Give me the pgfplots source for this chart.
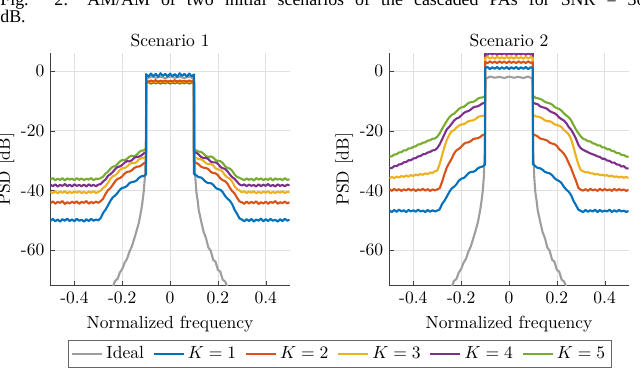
\documentclass[border=0pt]{standalone}
\usepackage{fontspec}
\usepackage{pgfplots}
\usepackage{pgfplotstable}
\pgfplotsset{compat=1.18}
\newfontfamily\capfont{Liberation Serif}

\definecolor{mblue}{rgb}{0,0.447,0.741}
\definecolor{morange}{rgb}{0.850,0.325,0.098}
\definecolor{myellow}{rgb}{0.929,0.694,0.125}
\definecolor{mpurple}{rgb}{0.494,0.184,0.556}
\definecolor{mgreen}{rgb}{0.466,0.674,0.188}
\definecolor{mgray}{rgb}{0.62,0.62,0.62}

% scenario 1, PSD in dB
\pgfplotstableread{
x      k1     k2     k3     k4     k5
-0.50 -50.2 -44.3 -40.5 -38.1 -36.4
-0.49 -49.6 -43.7 -40.9 -38.6 -35.9
-0.48 -50.4 -44.5 -40.3 -38.0 -36.6
-0.47 -49.8 -43.9 -41.0 -38.7 -36.1
-0.46 -50.5 -44.2 -40.4 -38.2 -36.5
-0.45 -49.7 -43.6 -40.8 -38.5 -35.9
-0.44 -50.2 -44.6 -40.3 -37.9 -36.7
-0.43 -49.5 -44.0 -41.0 -38.6 -36.0
-0.42 -50.3 -44.4 -40.5 -38.1 -36.4
-0.41 -49.8 -43.8 -40.9 -38.7 -36.1
-0.40 -50.4 -44.3 -40.4 -38.0 -36.6
-0.39 -49.6 -43.7 -40.8 -38.5 -35.9
-0.38 -50.2 -44.5 -40.3 -38.2 -36.5
-0.37 -49.9 -43.9 -40.9 -38.6 -36.0
-0.36 -50.5 -44.2 -40.5 -38.1 -36.6
-0.35 -49.7 -43.6 -41.0 -38.7 -36.1
-0.34 -50.3 -44.5 -40.4 -38.0 -36.4
-0.33 -49.6 -43.9 -40.8 -38.5 -35.9
-0.32 -50.2 -44.3 -40.3 -38.2 -36.6
-0.31 -49.8 -43.8 -40.9 -38.6 -36.1
-0.30 -50.1 -44.2 -40.5 -38.1 -36.2
-0.29 -49.3 -43.6 -40.1 -37.9 -35.9
-0.28 -47.6 -42.8 -39.2 -37.0 -35.4
-0.27 -46.5 -41.2 -38.6 -36.4 -34.4
-0.26 -45.1 -40.0 -37.5 -35.2 -33.8
-0.25 -43.6 -39.3 -36.2 -34.6 -32.8
-0.24 -42.4 -38.2 -35.3 -33.9 -32.1
-0.23 -41.8 -37.0 -35.0 -32.9 -31.9
-0.22 -40.9 -36.2 -34.2 -32.2 -31.2
-0.21 -39.8 -35.9 -33.2 -32.0 -30.3
-0.20 -39.2 -35.3 -32.6 -31.5 -29.8
-0.19 -39.0 -34.4 -32.5 -30.7 -29.9
-0.18 -38.5 -33.8 -32.0 -30.2 -29.4
-0.17 -37.6 -33.7 -31.2 -30.3 -28.7
-0.16 -37.2 -33.3 -30.8 -29.9 -28.4
-0.15 -37.1 -32.5 -30.9 -29.1 -28.6
-0.14 -36.7 -32.1 -30.5 -28.8 -28.1
-0.13 -35.8 -32.0 -29.6 -28.7 -27.2
-0.12 -35.3 -31.6 -29.2 -28.3 -26.7
-0.11 -35.2 -30.9 -29.1 -27.6 -26.6
-0.10 -34.6 -30.6 -28.6 -27.3 -26.0
-0.10 -1.0 -3.2 -3.6 -3.8 -4.0
-0.09 -1.8 -3.6 -3.3 -3.5 -3.7
-0.08 -0.8 -3.1 -3.8 -4.0 -4.2
-0.07 -1.7 -3.5 -3.4 -3.6 -3.8
-0.06 -0.9 -3.0 -3.7 -3.9 -4.1
-0.05 -1.9 -3.6 -3.3 -3.5 -3.7
-0.04 -0.7 -3.2 -3.8 -4.0 -4.2
-0.03 -1.6 -3.5 -3.4 -3.6 -3.8
-0.02 -0.9 -3.1 -3.7 -3.9 -4.1
-0.01 -1.8 -3.6 -3.3 -3.5 -3.7
0.00 -0.8 -3.2 -3.8 -4.0 -4.2
0.01 -1.7 -3.5 -3.4 -3.6 -3.8
0.02 -1.0 -3.0 -3.7 -3.9 -4.1
0.03 -1.9 -3.6 -3.3 -3.5 -3.7
0.04 -0.7 -3.1 -3.8 -4.0 -4.2
0.05 -1.6 -3.5 -3.4 -3.6 -3.8
0.06 -0.9 -3.2 -3.7 -3.9 -4.1
0.07 -1.8 -3.6 -3.3 -3.5 -3.7
0.08 -0.8 -3.1 -3.8 -4.0 -4.2
0.09 -1.7 -3.5 -3.4 -3.6 -3.8
0.10 -1.1 -3.3 -3.6 -3.8 -4.0
0.10 -34.5 -30.7 -28.5 -27.2 -26.1
0.11 -35.0 -30.8 -29.2 -27.4 -26.7
0.12 -35.6 -31.3 -29.5 -28.0 -27.0
0.13 -35.7 -32.1 -29.6 -28.8 -27.1
0.14 -36.4 -32.4 -30.1 -29.2 -27.7
0.15 -37.2 -32.5 -30.9 -29.1 -28.5
0.16 -37.6 -32.9 -31.2 -29.5 -28.8
0.17 -37.6 -33.8 -31.1 -30.4 -28.6
0.18 -38.1 -34.2 -31.6 -30.6 -29.0
0.19 -39.1 -34.3 -32.6 -30.6 -29.8
0.20 -39.6 -34.9 -33.0 -31.1 -30.2
0.21 -39.8 -36.0 -33.1 -32.1 -30.2
0.22 -40.6 -36.6 -33.8 -32.6 -30.8
0.23 -41.9 -36.9 -35.0 -32.8 -31.9
0.24 -42.8 -37.8 -35.7 -33.6 -32.5
0.25 -43.5 -39.2 -36.1 -34.7 -32.7
0.26 -44.7 -40.3 -37.1 -35.6 -33.5
0.27 -46.6 -41.1 -38.7 -36.2 -34.7
0.28 -47.9 -42.5 -39.6 -37.1 -35.5
0.29 -49.4 -43.7 -40.0 -38.0 -35.8
0.30 -49.8 -44.0 -40.7 -38.4 -36.2
0.31 -50.4 -44.5 -40.3 -38.0 -36.6
0.32 -49.7 -43.8 -40.9 -38.6 -36.0
0.33 -50.3 -44.4 -40.4 -38.1 -36.5
0.34 -49.6 -43.9 -40.8 -38.5 -36.1
0.35 -50.5 -44.3 -40.3 -38.2 -36.7
0.36 -49.8 -43.7 -41.0 -38.7 -35.9
0.37 -50.2 -44.6 -40.5 -38.0 -36.4
0.38 -49.5 -44.0 -40.9 -38.6 -36.0
0.39 -50.4 -44.4 -40.4 -38.1 -36.6
0.40 -49.7 -43.8 -40.8 -38.5 -36.1
0.41 -50.3 -44.5 -40.3 -37.9 -36.5
0.42 -49.6 -43.9 -41.0 -38.6 -35.9
0.43 -50.2 -44.2 -40.5 -38.2 -36.7
0.44 -49.9 -43.6 -40.9 -38.7 -36.0
0.45 -50.5 -44.5 -40.4 -38.0 -36.4
0.46 -49.7 -44.0 -40.8 -38.5 -36.1
0.47 -50.3 -44.3 -40.3 -38.2 -36.6
0.48 -49.6 -43.8 -40.9 -38.6 -35.9
0.49 -50.2 -44.4 -40.5 -38.1 -36.5
0.50 -49.9 -44.0 -40.6 -38.3 -36.3
}\scenA

% scenario 2, PSD in dB
\pgfplotstableread{
x      k1     k2     k3     k4     k5
-0.50 -46.8 -39.6 -35.9 -32.6 -28.7
-0.49 -47.3 -40.2 -35.5 -32.5 -28.6
-0.48 -46.6 -39.5 -35.9 -31.9 -28.0
-0.47 -47.2 -40.1 -35.4 -31.9 -27.9
-0.46 -46.5 -39.6 -35.7 -31.3 -27.3
-0.45 -47.1 -40.2 -35.2 -31.2 -27.2
-0.44 -46.7 -39.7 -35.5 -30.6 -26.6
-0.43 -47.3 -40.0 -35.0 -30.5 -26.6
-0.42 -46.6 -39.5 -35.4 -29.9 -25.9
-0.41 -47.1 -40.1 -34.9 -29.9 -25.9
-0.40 -46.7 -39.6 -35.2 -29.3 -25.4
-0.39 -47.2 -40.2 -34.7 -29.2 -25.2
-0.38 -46.5 -39.7 -35.0 -28.6 -24.6
-0.37 -47.1 -40.0 -34.5 -28.5 -24.5
-0.36 -46.8 -39.5 -34.8 -27.9 -24.0
-0.35 -47.3 -40.1 -34.3 -27.8 -23.9
-0.34 -46.6 -39.6 -34.6 -27.3 -23.3
-0.33 -47.2 -40.2 -34.0 -27.1 -23.2
-0.32 -46.7 -39.7 -34.2 -26.6 -22.7
-0.31 -47.1 -40.0 -33.6 -26.5 -22.6
-0.30 -46.8 -39.7 -33.4 -25.8 -22.0
-0.29 -46.4 -39.3 -31.2 -24.6 -20.9
-0.28 -44.6 -37.2 -28.3 -22.9 -19.4
-0.27 -43.5 -34.6 -25.4 -21.2 -18.0
-0.26 -42.1 -32.3 -23.1 -19.5 -16.7
-0.25 -40.6 -30.8 -21.4 -18.7 -15.5
-0.24 -39.4 -29.4 -20.2 -17.7 -14.7
-0.23 -38.8 -27.7 -19.8 -16.6 -14.3
-0.22 -38.0 -26.6 -19.0 -15.9 -13.5
-0.21 -36.8 -26.1 -18.3 -15.6 -12.7
-0.20 -36.1 -25.4 -17.9 -14.9 -12.2
-0.19 -35.9 -24.5 -17.8 -14.1 -12.0
-0.18 -35.2 -24.0 -17.4 -13.6 -11.4
-0.17 -34.3 -23.9 -16.8 -13.4 -10.7
-0.16 -33.8 -23.5 -16.6 -12.9 -10.4
-0.15 -33.8 -22.8 -16.5 -12.2 -10.3
-0.14 -33.4 -22.6 -16.1 -11.9 -9.9
-0.13 -32.6 -22.5 -15.4 -11.8 -9.2
-0.12 -32.2 -22.1 -15.1 -11.3 -8.9
-0.11 -32.0 -21.4 -15.0 -10.8 -8.8
-0.10 -31.3 -21.2 -14.7 -10.5 -8.3
-0.10 1.0 3.1 4.4 5.9 7.3
-0.09 1.4 2.7 4.8 5.5 6.9
-0.08 0.7 3.3 4.3 6.1 7.5
-0.07 1.3 2.8 4.7 5.6 7.0
-0.06 0.8 3.2 4.2 6.1 7.4
-0.05 1.4 2.7 4.8 5.5 6.9
-0.04 0.7 3.3 4.3 6.0 7.5
-0.03 1.3 2.8 4.7 5.6 7.0
-0.02 0.8 3.2 4.2 6.1 7.4
-0.01 1.4 2.7 4.8 5.5 6.9
0.00 0.7 3.3 4.3 6.0 7.5
0.01 1.3 2.8 4.7 5.6 7.0
0.02 0.8 3.2 4.2 6.1 7.4
0.03 1.4 2.7 4.8 5.5 6.9
0.04 0.7 3.3 4.3 6.0 7.5
0.05 1.3 2.8 4.7 5.6 7.0
0.06 0.8 3.2 4.2 6.1 7.4
0.07 1.4 2.7 4.8 5.5 6.9
0.08 0.7 3.3 4.3 6.0 7.5
0.09 1.3 2.8 4.7 5.6 7.0
0.10 1.1 3.0 4.5 5.8 7.2
0.10 -31.2 -21.3 -14.6 -10.6 -8.2
0.11 -31.9 -21.5 -15.1 -10.9 -8.9
0.12 -32.5 -21.9 -15.3 -11.1 -9.1
0.13 -32.6 -22.6 -15.5 -11.8 -9.3
0.14 -33.1 -22.8 -15.9 -12.1 -9.7
0.15 -33.8 -23.0 -16.5 -12.3 -10.3
0.16 -34.1 -23.3 -16.8 -12.7 -10.6
0.17 -34.3 -24.0 -16.8 -13.4 -10.8
0.18 -34.9 -24.3 -17.2 -13.8 -11.2
0.19 -35.9 -24.5 -17.8 -14.1 -12.0
0.20 -36.5 -25.1 -18.1 -14.7 -12.4
0.21 -36.9 -26.2 -18.3 -15.6 -12.7
0.22 -37.6 -26.9 -18.8 -16.1 -13.3
0.23 -38.9 -27.8 -19.8 -16.6 -14.2
0.24 -39.8 -29.1 -20.4 -17.5 -14.9
0.25 -40.5 -30.9 -21.3 -18.8 -15.5
0.26 -41.7 -32.6 -22.9 -19.7 -16.5
0.27 -43.6 -34.8 -25.6 -21.1 -18.1
0.28 -45.0 -36.8 -28.6 -22.7 -19.6
0.29 -46.5 -39.2 -31.3 -24.7 -20.8
0.30 -46.9 -39.8 -33.2 -25.9 -21.9
0.31 -47.3 -40.1 -33.6 -26.4 -22.7
0.32 -46.6 -39.6 -34.0 -26.8 -23.0
0.33 -47.2 -40.2 -33.9 -27.2 -23.5
0.34 -46.7 -39.5 -34.3 -27.6 -23.6
0.35 -47.1 -40.0 -34.3 -27.9 -24.2
0.36 -46.5 -39.7 -34.7 -28.2 -24.4
0.37 -47.3 -40.2 -34.5 -28.6 -24.9
0.38 -46.6 -39.5 -34.9 -28.8 -24.9
0.39 -47.2 -40.1 -34.7 -29.4 -25.6
0.40 -46.8 -39.6 -35.1 -29.4 -25.6
0.41 -47.1 -40.0 -34.9 -30.0 -26.2
0.42 -46.5 -39.7 -35.3 -30.1 -26.2
0.43 -47.3 -40.2 -35.1 -30.7 -26.8
0.44 -46.7 -39.5 -35.5 -30.7 -26.9
0.45 -47.2 -40.1 -35.3 -31.3 -27.5
0.46 -46.6 -39.6 -35.7 -31.4 -27.5
0.47 -47.1 -40.0 -35.4 -32.0 -28.1
0.48 -46.8 -39.7 -35.8 -31.9 -28.2
0.49 -47.3 -40.2 -35.5 -32.6 -28.6
0.50 -46.9 -39.8 -35.9 -32.7 -28.8
}\scenB

% ideal spectrum (same in both panels)
\pgfplotstableread{
x      y
-0.30 -90.0
-0.27 -78.5
-0.25 -74.2
-0.24 -72.6
-0.23 -70.4
-0.22 -69.8
-0.21 -67.6
-0.20 -66.4
-0.19 -64.3
-0.18 -63.0
-0.17 -60.6
-0.16 -58.9
-0.15 -56.3
-0.14 -53.6
-0.13 -50.7
-0.12 -46.4
-0.115 -43.6
-0.11 -40.3
-0.105 -35.2
-0.102 -27.0
-0.100 -12.0
-0.098 -2.6
-0.08 -1.8
-0.06 -2.2
-0.04 -1.9
-0.02 -2.3
0.00 -1.8
0.02 -2.2
0.04 -1.9
0.06 -2.3
0.08 -1.8
0.098 -2.5
0.100 -12.0
0.102 -27.5
0.105 -35.0
0.11 -40.6
0.115 -43.3
0.12 -46.7
0.13 -50.4
0.14 -53.9
0.15 -56.0
0.16 -59.2
0.17 -60.3
0.18 -63.3
0.19 -64.0
0.20 -66.7
0.21 -67.3
0.22 -70.0
0.23 -70.6
0.24 -72.4
0.25 -74.5
0.27 -78.2
0.30 -90.0
}\ideal

\pgfplotsset{
  psdaxis/.style={
    scale only axis,
    width=136.4pt, height=132.5pt,
    xmin=-0.5, xmax=0.5,
    ymin=-72, ymax=6,
    axis x line*=bottom,
    axis y line*=left,
    xtick={-0.4,-0.2,0,0.2,0.4},
    xticklabels={-0.4,-0.2,0,0.2,0.4},
    ytick={-60,-40,-20,0},
    yticklabels={-60,-40,-20,0},
    grid=major,
    major grid style={black!12, line width=0.4pt},
    tick align=inside,
    major tick length=2.5pt,
    axis line style={black!75, line width=0.5pt},
    tick style={black!75},
    xlabel={Normalized frequency},
    ylabel={PSD [dB]},
    ylabel shift=-3pt,
    title style={yshift=-6pt},
    every axis plot/.append style={line width=1.2pt, line join=round},
  },
}

\begin{document}
\begin{tikzpicture}
\useasboundingbox (0,0) rectangle (365pt,-210.4pt);

% cut-off caption of the previous figure
\node[anchor=base west, inner sep=0pt] at (0,-2.9pt)
  {\capfont\fontsize{10.2}{12}\selectfont\makebox[368pt][s]{Fig. 2: AM/AM of two initial scenarios of the cascaded PAs for SNR = 30}};
\node[anchor=base west, inner sep=0pt] at (0,-12.9pt)
  {\capfont\fontsize{10.2}{12}\selectfont dB.};

\begin{axis}[
  psdaxis,
  at={(28.8pt,-162.9pt)}, anchor=south west,
  title={Scenario 1},
  legend columns=6,
  legend cell align={left},
  legend style={at={(1.2104,-0.2943)}, anchor=center, draw=black!60,
    line width=0.5pt, inner sep=1.5pt,
    /tikz/every even column/.append style={column sep=3pt}},
]
\addlegendimage{mgray, line width=1pt}\addlegendentry{Ideal}
\addlegendimage{mblue, line width=1pt}\addlegendentry{$K=1$}
\addlegendimage{morange, line width=1pt}\addlegendentry{$K=2$}
\addlegendimage{myellow, line width=1pt}\addlegendentry{$K=3$}
\addlegendimage{mpurple, line width=1pt}\addlegendentry{$K=4$}
\addlegendimage{mgreen, line width=1pt}\addlegendentry{$K=5$}
\addplot[mgray, forget plot] table[x=x, y=y] {\ideal};
\addplot[mgreen, forget plot] table[x=x, y=k5] {\scenA};
\addplot[mpurple, forget plot] table[x=x, y=k4] {\scenA};
\addplot[myellow, forget plot] table[x=x, y=k3] {\scenA};
\addplot[morange, forget plot] table[x=x, y=k2] {\scenA};
\addplot[mblue, forget plot] table[x=x, y=k1] {\scenA};
\end{axis}

\begin{axis}[
  psdaxis,
  at={(222.1pt,-162.9pt)}, anchor=south west,
  title={Scenario 2},
]
\addplot[mgray] table[x=x, y=y] {\ideal};
\addplot[mgreen] table[x=x, y=k5] {\scenB};
\addplot[mpurple] table[x=x, y=k4] {\scenB};
\addplot[myellow] table[x=x, y=k3] {\scenB};
\addplot[morange] table[x=x, y=k2] {\scenB};
\addplot[mblue] table[x=x, y=k1] {\scenB};
\end{axis}
\end{tikzpicture}
\end{document}
